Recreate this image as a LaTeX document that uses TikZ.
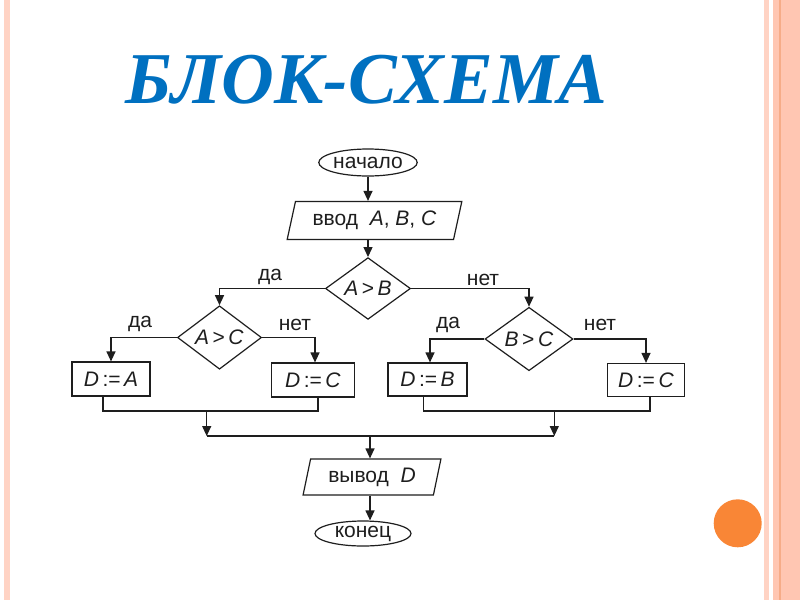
\documentclass[tikz,border=0pt]{standalone}
\usepackage{fontspec}
\setmainfont{Liberation Sans}
\newfontfamily\titlefont{Liberation Serif}
\usetikzlibrary{shapes.geometric,arrows.meta}
\definecolor{titleblue}{HTML}{0070C0}
\definecolor{ink}{HTML}{1E1E1E}
\definecolor{stripelight}{HTML}{FFD3C4}
\definecolor{stripemid}{HTML}{FFC6B2}
\definecolor{stripedark}{HTML}{F6AC88}
\definecolor{dotorange}{HTML}{F98636}
\tikzset{
  base/.style={draw=ink, line width=1.2pt, text=ink, inner sep=0pt, font=\fontsize{21}{25}\selectfont},
  term/.style={base, ellipse},
  io/.style={base, trapezium, trapezium left angle=71, trapezium right angle=109, trapezium stretches=true},
  cond/.style={base, diamond},
  act/.style={base, rectangle},
  lbl/.style={inner sep=0pt, text=ink, font=\fontsize{21}{25}\selectfont},
  link/.style={draw=ink, line width=1.2pt},
  arr/.style={link, -{Triangle[length=10pt,width=9pt]}}
}
\begin{document}
\begin{tikzpicture}[x=1pt,y=-1pt]
\useasboundingbox (0,0) rectangle (800,600);
\fill[white] (0,0) rectangle (800,600);
% decorative stripes
\fill[stripelight] (3.5,0) rectangle (9.5,600);
\fill[stripelight] (764,0) rectangle (769,600);
\fill[stripemid] (773,0) rectangle (800,600);
\fill[stripedark] (779,0) rectangle (781,600);
\fill[dotorange] (737.7,523.3) circle[radius=24];
% title
\node[anchor=base west, inner sep=0pt, text=titleblue,
      font=\titlefont\bfseries\itshape\fontsize{73}{80}\selectfont] (title) at (125,103) {БЛОК-СХЕМА};
% flowchart nodes
\node[term, minimum width=98pt, minimum height=27pt] (start) at (368,162.5) {начало};
\node[io, minimum width=175pt, minimum height=38pt] (in) at (374.5,220.5) {ввод\ \ \textit{A}, \textit{B}, \textit{C}};
\node[cond, minimum width=85pt, minimum height=47pt] (ab) at (368,288.5) {\textit{A}\,>\,\textit{B}};
\node[cond, minimum width=84pt, minimum height=45pt] (ac) at (219.5,337.5) {\textit{A}\,>\,\textit{C}};
\node[cond, minimum width=88pt, minimum height=47pt] (bc) at (529,339) {\textit{B}\,>\,\textit{C}};
\node[act, minimum width=78pt, minimum height=34pt] (da) at (111,379) {\textit{D}\,:=\,\textit{A}};
\node[act, minimum width=83pt, minimum height=34pt] (dc1) at (313,380) {\textit{D}\,:=\,\textit{C}};
\node[act, minimum width=79pt, minimum height=33pt] (db) at (427.5,379.5) {\textit{D}\,:=\,\textit{B}};
\node[act, minimum width=77pt, minimum height=33pt] (dc2) at (646,380) {\textit{D}\,:=\,\textit{C}};
\node[io, trapezium left angle=74, trapezium right angle=106, minimum width=139pt, minimum height=36pt] (out) at (372,477) {вывод\ \ \textit{D}};
\node[term, minimum width=96pt, minimum height=25pt] (end) at (363,533.5) {конец};
% labels
\node[lbl] (l1) at (270,277) {да};
\node[lbl] (l2) at (483,280) {нет};
\node[lbl] (l3) at (140,324) {да};
\node[lbl] (l4) at (295,325) {нет};
\node[lbl] (l5) at (448,325) {да};
\node[lbl] (l6) at (600,325) {нет};
% junction coordinates
\coordinate (m1) at (206.7,411);
\coordinate (m2) at (554.3,411);
\coordinate (j1) at (206.7,436);
\coordinate (j2) at (554.3,436);
\coordinate (jc) at (370,436);
% connectors
\draw[arr] (start.south) -- (start.south |- in.north);
\draw[arr] (ab.north |- in.south) -- (ab.north);
\draw[arr] (ab.west) -| (ac.north);
\draw[arr] (ab.east) -| (bc.north);
\draw[arr] (ac.west) -| (da.north);
\draw[arr] (ac.east) -| ([xshift=2pt]dc1.north);
\draw[arr] (bc.west) -| ([xshift=2.5pt]db.north);
\draw[arr] (bc.east) -| (dc2.north);
\draw[link] ([xshift=-8pt]da.south) |- (m1) -| ([xshift=5pt]dc1.south);
\draw[link] ([xshift=-4pt]db.south) |- (m2) -| ([xshift=4pt]dc2.south);
\draw[arr] (m1) -- (j1);
\draw[arr] (m2) -- (j2);
\draw[link] (j1) -- (j2);
\draw[arr] (jc) -- (jc |- out.north);
\draw[arr] (jc |- out.south) -- (jc |- end.north);
\end{tikzpicture}
\end{document}
